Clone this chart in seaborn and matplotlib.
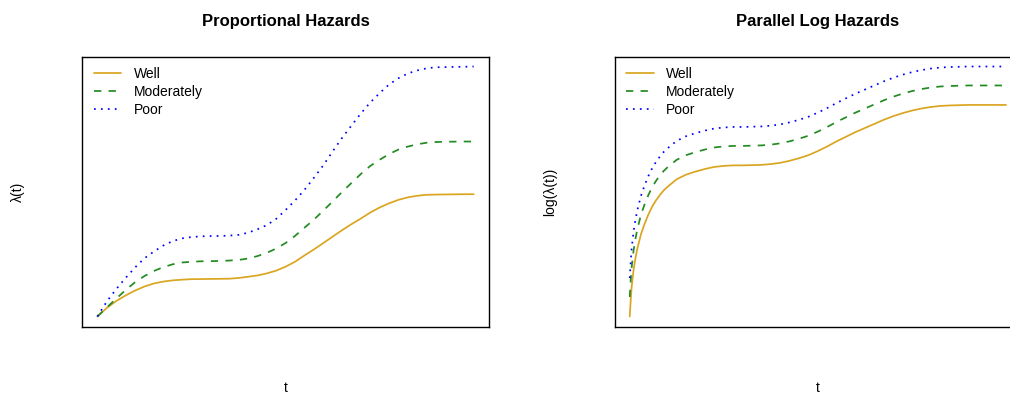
import numpy as np
import pandas as pd
import matplotlib
matplotlib.use("Agg")
import matplotlib.pyplot as plt
import seaborn as sns

# Time grid and hazard values for the proportional-hazards panel
t_ph = [0, 0.25, 0.5, 0.75, 1, 1.25, 1.5, 1.75, 2, 2.25, 2.5, 2.75, 3, 3.25,
        3.5, 3.75, 4, 4.25, 4.5, 4.75, 5, 5.25, 5.5, 5.75, 6, 6.25, 6.5,
        6.75, 7, 7.25, 7.5, 7.75, 8, 8.25, 8.5, 8.75, 9, 9.25, 9.5, 9.75, 10]
haz_well = [0.17, 0.88, 1.46, 1.92, 2.33, 2.67, 2.92, 3.08, 3.18, 3.24, 3.28,
            3.29, 3.30, 3.31, 3.32, 3.38, 3.48, 3.59, 3.76, 3.99, 4.32, 4.73,
            5.25, 5.75, 6.28, 6.82, 7.36, 7.86, 8.33, 8.83, 9.25, 9.60, 9.89,
            10.10, 10.23, 10.31, 10.33, 10.34, 10.35, 10.36, 10.36]
haz_moderately = [0.17, 0.92, 1.65, 2.38, 3.02, 3.54, 3.96, 4.28, 4.52, 4.67,
                  4.73, 4.77, 4.78, 4.80, 4.83, 4.88, 5.00, 5.20, 5.47, 5.83,
                  6.29, 6.88, 7.56, 8.23, 8.98, 9.75, 10.54, 11.29, 12.04,
                  12.71, 13.23, 13.70, 14.08, 14.33, 14.52, 14.65, 14.71,
                  14.73, 14.74, 14.75, 14.75]
haz_poor = [0.17, 1.42, 2.45, 3.38, 4.25, 5.02, 5.58, 6.08, 6.45, 6.68, 6.79,
            6.85, 6.87, 6.88, 6.91, 6.97, 7.15, 7.43, 7.78, 8.30, 9.04, 9.83,
            10.71, 11.71, 12.75, 13.92, 15.04, 16.07, 17.08, 18.00, 18.78,
            19.50, 20.02, 20.42, 20.67, 20.85, 20.94, 20.95, 20.97, 20.98,
            21.00]

# Time grid and log-hazard values for the parallel-log-hazards panel
t_log = [0, 0.025, 0.05, 0.1, 0.15, 0.2, 0.3, 0.4, 0.5, 0.6, 0.7, 0.8, 0.9,
         1, 1.25, 1.5, 1.75, 2, 2.25, 2.5, 2.75, 3, 3.25, 3.5, 3.75, 4, 4.25,
         4.5, 4.75, 5, 5.25, 5.5, 5.75, 6, 6.25, 6.5, 6.75, 7, 7.25, 7.5,
         7.75, 8, 8.25, 8.5, 8.75, 9, 9.25, 9.5, 9.75, 10]
loghaz_well = [-1.76, -1.45, -1.19, -0.86, -0.63, -0.44, -0.15, 0.06, 0.24,
               0.39, 0.51, 0.61, 0.70, 0.77, 0.92, 1.01, 1.07, 1.12, 1.16,
               1.18, 1.19, 1.19, 1.195, 1.20, 1.215, 1.24, 1.28, 1.33, 1.39,
               1.47, 1.56, 1.66, 1.75, 1.84, 1.92, 2.00, 2.08, 2.15, 2.21,
               2.26, 2.30, 2.33, 2.35, 2.36, 2.365, 2.37, 2.37, 2.37, 2.37,
               2.37]
loghaz_moderately = [-1.38, -1.07, -0.81, -0.48, -0.25, -0.06, 0.23, 0.44,
                     0.62, 0.77, 0.89, 0.99, 1.08, 1.15, 1.30, 1.39, 1.45,
                     1.50, 1.54, 1.56, 1.57, 1.57, 1.575, 1.58, 1.595, 1.62,
                     1.66, 1.71, 1.77, 1.85, 1.94, 2.04, 2.13, 2.22, 2.30,
                     2.38, 2.46, 2.53, 2.59, 2.64, 2.68, 2.71, 2.73, 2.74,
                     2.745, 2.75, 2.75, 2.75, 2.75, 2.75]
loghaz_poor = [-1.01, -0.70, -0.44, -0.11, 0.12, 0.31, 0.60, 0.81, 0.99,
               1.14, 1.26, 1.36, 1.45, 1.52, 1.67, 1.76, 1.82, 1.87, 1.91,
               1.93, 1.94, 1.94, 1.945, 1.95, 1.965, 1.99, 2.03, 2.08, 2.14,
               2.22, 2.31, 2.41, 2.50, 2.59, 2.67, 2.75, 2.83, 2.90, 2.96,
               3.01, 3.05, 3.08, 3.10, 3.11, 3.115, 3.12, 3.12, 3.12, 3.12,
               3.12]

groups = ["Well", "Moderately", "Poor"]
colors = {"Well": "#DAA520", "Moderately": "#228B22", "Poor": "#0000FF"}
styles = {"Well": "-", "Moderately": (0, (4.2, 4.2)), "Poor": (0, (1, 3))}

sns.set_theme(style="white")
plt.rcParams["font.family"] = ["Liberation Sans", "DejaVu Sans"]
plt.rcParams["text.color"] = "black"
plt.rcParams["axes.labelcolor"] = "black"
plt.rcParams["axes.edgecolor"] = "black"
plt.rcParams["axes.linewidth"] = 1.0

fig = plt.figure(figsize=(10.1, 3.93), dpi=100)
ax_left = fig.add_axes([0.0815, 0.1692, 0.4024, 0.687])
ax_right = fig.add_axes([0.6086, 0.1692, 0.4024, 0.687])


def r_limits(values):
    lo, hi = float(np.min(values)), float(np.max(values))
    pad = 0.04 * (hi - lo)
    return lo - pad, hi + pad


def draw_panel(ax, t, series, title, ylabel):
    frame = pd.DataFrame({"t": np.tile(t, len(groups)),
                          "value": np.concatenate([series[g] for g in groups]),
                          "group": np.repeat(groups, len(t))})
    for g in groups:
        sub = frame[frame["group"] == g]
        sns.lineplot(data=sub, x="t", y="value", ax=ax, color=colors[g],
                     linestyle=styles[g], linewidth=1.25, label=g,
                     errorbar=None)
    for line in ax.get_lines():
        line.set_solid_joinstyle("round")
        line.set_dash_joinstyle("round")
    ax.set_xlim(*r_limits(t))
    ax.set_ylim(*r_limits(frame["value"]))
    ax.set_xticks([])
    ax.set_yticks([])
    for sp in ax.spines.values():
        sp.set_visible(True)
        sp.set_color("black")
        sp.set_linewidth(1.0)
    ax.set_title(title, fontsize=12, fontweight="bold", y=1.13, pad=0,
                 va="center", color="black")
    ax.set_xlabel("t", fontsize=10)
    ax.xaxis.set_label_coords(0.5, -0.226)
    ax.xaxis.label.set_va("center")
    ax.set_ylabel(ylabel, fontsize=10)
    ax.yaxis.set_label_coords(-0.158, 0.5)
    ax.yaxis.label.set_va("center")
    ax.legend(loc="upper left", bbox_to_anchor=(0.029, 0.960), frameon=False,
              fontsize=10, handlelength=1.95, handletextpad=0.9,
              labelspacing=0.26, borderpad=0, borderaxespad=0)


draw_panel(ax_left, t_ph,
           {"Well": haz_well, "Moderately": haz_moderately, "Poor": haz_poor},
           "Proportional Hazards", "λ(t)")
draw_panel(ax_right, t_log,
           {"Well": loghaz_well, "Moderately": loghaz_moderately,
            "Poor": loghaz_poor},
           "Parallel Log Hazards", "log(λ(t))")

fig.savefig("out.png", dpi=100)
